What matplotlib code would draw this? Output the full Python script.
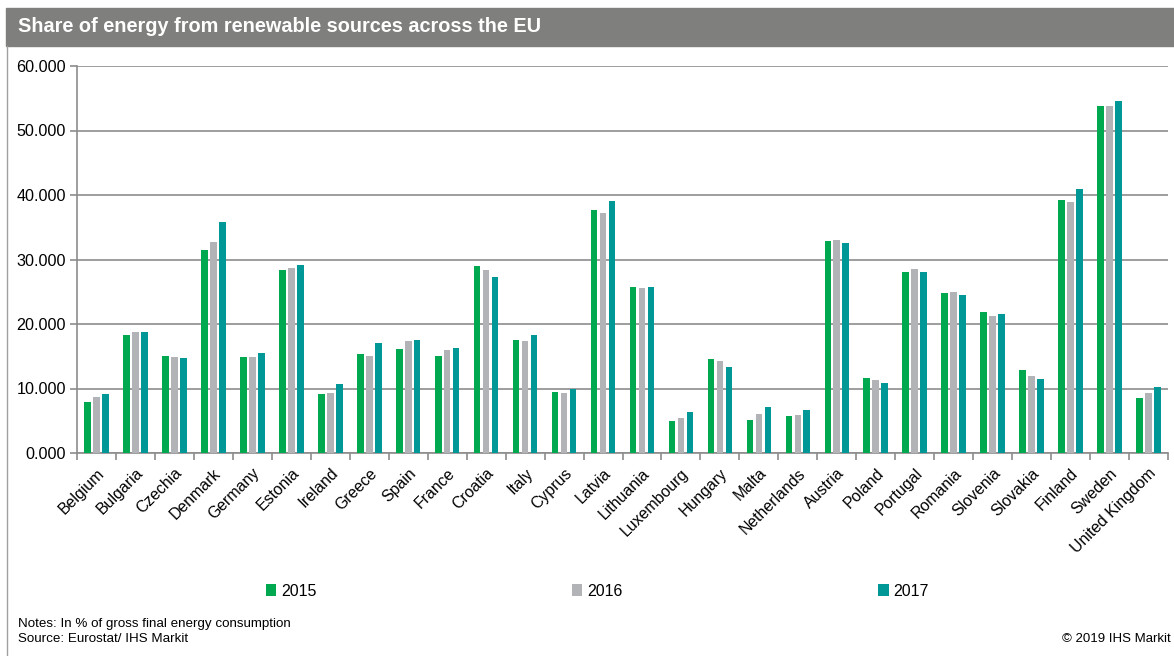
import matplotlib.pyplot as plt
import numpy as np
from matplotlib.patches import Rectangle
from matplotlib.lines import Line2D

plt.rcParams['font.family'] = ['Liberation Sans', 'DejaVu Sans']

paises = ['Belgium', 'Bulgaria', 'Czechia', 'Denmark', 'Germany', 'Estonia', 'Ireland',
          'Greece', 'Spain', 'France', 'Croatia', 'Italy', 'Cyprus', 'Latvia', 'Lithuania',
          'Luxembourg', 'Hungary', 'Malta', 'Netherlands', 'Austria', 'Poland', 'Portugal',
          'Romania', 'Slovenia', 'Slovakia', 'Finland', 'Sweden', 'United Kingdom']

v2015 = [7.9, 18.3, 15.0, 31.5, 14.9, 28.4, 9.1, 15.4, 16.2, 15.1, 29.0, 17.5, 9.4, 37.6,
         25.8, 5.0, 14.5, 5.1, 5.8, 32.8, 11.7, 28.0, 24.8, 21.9, 12.9, 39.3, 53.8, 8.5]
v2016 = [8.7, 18.8, 14.9, 32.7, 14.9, 28.7, 9.3, 15.1, 17.4, 16.0, 28.3, 17.4, 9.3, 37.2,
         25.6, 5.4, 14.3, 6.0, 5.9, 33.0, 11.3, 28.5, 25.0, 21.3, 12.0, 38.9, 53.8, 9.3]
v2017 = [9.1, 18.7, 14.8, 35.8, 15.5, 29.2, 10.7, 17.0, 17.5, 16.3, 27.3, 18.3, 9.9, 39.0,
         25.8, 6.4, 13.4, 7.2, 6.6, 32.6, 10.9, 28.1, 24.5, 21.5, 11.5, 41.0, 54.5, 10.2]

anios = ['2015', '2016', '2017']
colores = ['#00a94f', '#b1b3b6', '#009797']
gris = '#8c8c8c'

fig = plt.figure(figsize=(11.74, 6.56), dpi=100)

# barra del titulo y borde izquierdo
fig.patches.append(Rectangle((6/1174, 1-46/656), 1, 38/656, transform=fig.transFigure,
                             color='#7f807e', zorder=0))
fig.lines.append(Line2D([6.5/1174, 6.5/1174], [0, 1-46/656], transform=fig.transFigure,
                        color='#a0a0a0', lw=1))
fig.text(18/1174, 1-27/656, 'Share of energy from renewable sources across the EU',
         color='white', fontsize=14.3, fontweight='bold', va='center')

ax = fig.add_axes([77/1174, 1-453/656, 1091/1174, 387/656])
x = np.arange(len(paises))
ancho = 0.17
paso = 0.23
barras = []
for i, vals in enumerate([v2015, v2016, v2017]):
    b = ax.bar(x + (i-1)*paso, vals, ancho, color=colores[i], label=anios[i], zorder=3)
    barras.append(b)

ax.set_xlim(-0.5, len(paises)-0.5)
ax.set_ylim(0, 60)
ax.set_yticks(np.arange(0, 61, 10))
ax.set_yticklabels([f'{v:.3f}' for v in np.arange(0, 61, 10)], fontsize=11.6)
ax.yaxis.grid(True, color=gris, lw=1.2, zorder=0)
ax.set_xticks(x)
ax.set_xticklabels(paises, rotation=45, ha='right', rotation_mode='anchor', fontsize=11.4)
ax.set_xticks(np.arange(-0.5, len(paises), 1), minor=True)
ax.tick_params(axis='x', which='major', length=0, pad=9)
ax.tick_params(axis='x', which='minor', length=5, color=gris, width=1.2)
ax.tick_params(axis='y', length=5, color=gris, width=1.2, pad=3)
for s in ['top', 'right']:
    ax.spines[s].set_visible(False)
for s in ['left', 'bottom']:
    ax.spines[s].set_color(gris)
    ax.spines[s].set_linewidth(1.2)

fig.legend(handles=barras, labels=anios, loc='center left', bbox_to_anchor=(266/1174, 1-591/656),
           ncol=3, frameon=False, fontsize=11.5, handlelength=0.65, handleheight=0.75,
           handletextpad=0.3, columnspacing=16.0, borderaxespad=0, borderpad=0)

fig.text(18/1174, 1-624/656, 'Notes: In % of gross final energy consumption', fontsize=9.6, va='center')
fig.text(18/1174, 1-639/656, 'Source: Eurostat/ IHS Markit', fontsize=9.6, va='center')
fig.text(1171/1174, 1-639/656, '\u00a9 2019 IHS Markit', fontsize=9.5, va='center', ha='right')

fig.savefig('out.png', dpi=100)
